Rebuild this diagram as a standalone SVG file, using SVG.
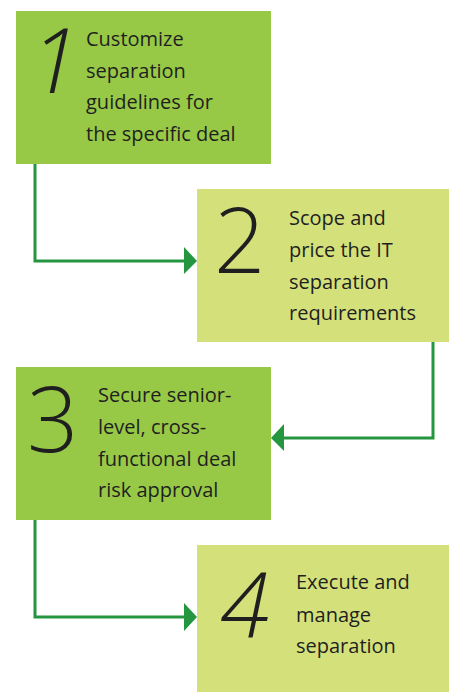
<svg xmlns="http://www.w3.org/2000/svg" width="449" height="692" viewBox="0 0 449 692">
<style>
.dark{fill:#97c947}
.light{fill:#d4e17b}
.t{font-family:"Open Sans","Noto Sans",sans-serif;font-size:20px;font-weight:500;fill:#1f1f1f}
.n{font-family:"Open Sans","Noto Sans",sans-serif;font-size:90px;font-weight:300;fill:#1f1f1f}
.c{fill:none;stroke:#24963f;stroke-width:3}
.h{fill:#24963f}
</style>
<rect width="449" height="692" fill="#ffffff"/>
<g id="connectors">
<polyline class="c" points="35,164 35,261 186,261"/>
<polygon class="h" points="184,247 197,261 184,274"/>
<polyline class="c" points="433,342 433,438 283,438"/>
<polygon class="h" points="284,424 271,438 284,451"/>
<polyline class="c" points="35,520 35,617 186,617"/>
<polygon class="h" points="184,603 197,617 184,631"/>
</g>
<g id="node1">
<rect class="dark" x="16" y="11" width="255" height="153"/>
<text class="n" x="30" y="93" font-style="italic">1</text>
<text class="t" x="86" y="46">Customize</text>
<text class="t" x="86" y="78">separation</text>
<text class="t" x="86" y="109">guidelines for</text>
<text class="t" x="86" y="141">the specific deal</text>
</g>
<g id="node2">
<rect class="light" x="197" y="189" width="252" height="153"/>
<text class="n" x="214" y="273">2</text>
<text class="t" x="289" y="225">Scope and</text>
<text class="t" x="289" y="257">price the IT</text>
<text class="t" x="289" y="289">separation</text>
<text class="t" x="289" y="320">requirements</text>
</g>
<g id="node3">
<rect class="dark" x="16" y="367" width="255" height="153"/>
<text class="n" x="27" y="452">3</text>
<text class="t" x="98" y="402">Secure senior-</text>
<text class="t" x="98" y="434">level, cross-</text>
<text class="t" x="98" y="466">functional deal</text>
<text class="t" x="98" y="497">risk approval</text>
</g>
<g id="node4">
<rect class="light" x="197" y="545" width="252" height="147"/>
<text class="n" x="220" y="638" font-style="italic">4</text>
<text class="t" x="296" y="589">Execute and</text>
<text class="t" x="296" y="622">manage</text>
<text class="t" x="296" y="653">separation</text>
</g>
</svg>
